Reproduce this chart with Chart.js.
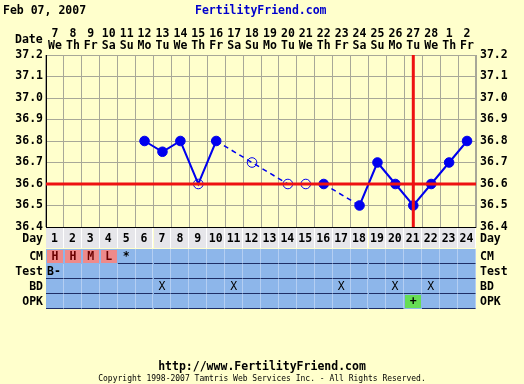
<!DOCTYPE html>
<html><head><meta charset="utf-8">
<script src="https://cdn.jsdelivr.net/npm/chart.js@4"></script>
<style>
html,body{margin:0;padding:0;background:#FFFFCC;}
#wrap{position:relative;width:524px;height:384px;overflow:hidden;font-family:'DejaVu Sans Mono',monospace;font-weight:bold;font-size:11.5px;color:#000;}
#c{position:absolute;left:0;top:0;}
.t{position:absolute;white-space:nowrap;line-height:1;}
.cell{position:absolute;box-sizing:border-box;text-align:center;white-space:nowrap;}
</style></head><body>
<div id="wrap"><canvas id="c" width="524" height="384"></canvas></div>
<script>
// ---- data ----
const dateNums = ['7','8','9','10','11','12','13','14','15','16','17','18','19','20','21','22','23','24','25','26','27','28','1','2'];
const weekdays = ['We','Th','Fr','Sa','Su','Mo','Tu','We','Th','Fr','Sa','Su','Mo','Tu','We','Th','Fr','Sa','Su','Mo','Tu','We','Th','Fr'];
const cycleDays = [1,2,3,4,5,6,7,8,9,10,11,12,13,14,15,16,17,18,19,20,21,22,23,24];
const temps = [null,null,null,null,null,36.8,36.75,36.8,36.6,36.8,null,36.7,null,36.6,36.6,36.6,null,36.5,36.7,36.6,36.5,36.6,36.7,36.8];
const openDays = [9,12,14,15];
const yTicks = [36.4,36.5,36.6,36.7,36.8,36.9,37.0,37.1,37.2];
const coverline = 36.6;
const ovulationDay = 21;
const cmObs = ['H','H','M','L','*','','','','','','','','','','','','','','','','','','',''];
const testObs = ['B-','','','','','','','','','','','','','','','','','','','','','','',''];
const bdObs = ['','','','','','','X','','','','X','','','','','','X','','','X','','X','',''];
const opkObs = ['','','','','','','','','','','','','','','','','','','','','+','','',''];
const rowLabels = ['CM','Test','BD','OPK'];
const chartTitle = 'Feb 07, 2007';
const siteName = 'FertilityFriend.com';
const siteUrl = 'http://www.FertilityFriend.com';
const copyright = 'Copyright 1998-2007 Tamtris Web Services Inc. - All Rights Reserved.';

const FONT = {family:"'DejaVu Sans Mono', monospace", size:11.5, weight:'bold', lineHeight:1.05};
const BLUE = '#0000EE';

const redLines = {
  id:'redLines',
  afterDatasetsDraw(chart){
    const {ctx, chartArea:a, scales} = chart;
    ctx.save();
    ctx.strokeStyle = '#EE1111';
    ctx.lineWidth = 3;
    const yy = scales.y.getPixelForValue(coverline);
    ctx.beginPath(); ctx.moveTo(a.left, yy); ctx.lineTo(a.right, yy); ctx.stroke();
    const xx = scales.x.getPixelForValue(cycleDays.indexOf(ovulationDay));
    ctx.beginPath(); ctx.moveTo(xx, a.top); ctx.lineTo(xx, a.bottom); ctx.stroke();
    ctx.restore();
  }
};
const gap = ctx => ctx.p0.skip || ctx.p1.skip;

const chart = new Chart(document.getElementById('c'), {
  type:'line',
  data:{
    labels: cycleDays.map(String),
    datasets:[{
      data: temps,
      borderColor: BLUE,
      borderWidth: 2,
      spanGaps: true,
      tension: 0,
      pointRadius: 4.8,
      pointHoverRadius: 4.8,
      pointBorderWidth: 1,
      pointBorderColor: BLUE,
      pointBackgroundColor: cycleDays.map(d => openDays.includes(d) ? 'rgba(0,0,0,0)' : BLUE),
      segment:{
        borderDash: ctx => (gap(ctx) ? [5,4] : undefined),
        borderWidth: ctx => (gap(ctx) ? 1.5 : 2)
      }
    }]
  },
  options:{
    responsive:false,
    animation:false,
    events:[],
    layout:{autoPadding:false, padding:{left:0,right:0,top:0,bottom:157}},
    plugins:{legend:{display:false}, tooltip:{enabled:false}},
    scales:{
      x:{display:false, offset:true},
      xTop:{
        type:'category', position:'top',
        labels: dateNums.map((d,i) => [d, weekdays[i]]),
        offset:true,
        grid:{offset:true, color:'#A8A898', drawTicks:false},
        border:{display:false},
        ticks:{font:FONT, color:'#000', padding:3, maxRotation:0, autoSkip:false},
        afterFit: s => { s.height = 55; }
      },
      y:{
        position:'left', min:36.4, max:37.2,
        afterBuildTicks: s => { s.ticks = yTicks.map(v => ({value:v})); },
        grid:{color:'#A8A898', drawTicks:false},
        border:{display:true, color:'#000', width:1},
        ticks:{font:FONT, color:'#000', padding:3, callback: v => v.toFixed(1)},
        afterFit: s => { s.width = 46; }
      },
      y2:{
        position:'right', min:36.4, max:37.2,
        afterBuildTicks: s => { s.ticks = yTicks.map(v => ({value:v})); },
        grid:{display:false, drawTicks:false},
        border:{display:true, color:'#A8A898', width:1},
        ticks:{font:FONT, color:'#000', padding:4, callback: v => v.toFixed(1)},
        afterFit: s => { s.width = 48; }
      }
    }
  },
  plugins:[redLines]
});

// ---- HTML text and lower grid ----
const wrap = document.getElementById('wrap');
function addText(txt, css){
  const d = document.createElement('div');
  d.className = 't'; d.textContent = txt;
  Object.assign(d.style, css);
  wrap.appendChild(d); return d;
}
addText(chartTitle, {left:'3px', top:'5px'});
addText(siteName, {left:'195px', top:'5px', color:'#0000CC'});
addText('Date', {left:'15px', top:'34px'});
addText(siteUrl, {left:'0', width:'524px', textAlign:'center', top:'361px'});
addText(copyright, {left:'0', width:'524px', textAlign:'center', top:'375px', fontSize:'8px', fontWeight:'normal'});

const a = chart.chartArea;
const xs = chart.scales.x;
const colW = (a.right - a.left) / cycleDays.length;
const dayTop = 228, dayH = 20;
const rowTops = [249, 264, 279, 294];
const rowH = [15, 15, 15, 15];
const gridBottom = 309;

function sideLabels(txt, top, h){
  addText(txt, {left:'0', width:'43px', textAlign:'right', top:(top + (h-11)/2)+'px'});
  addText(txt, {left:'480px', top:(top + (h-11)/2)+'px'});
}
sideLabels('Day', dayTop, dayH);
rowLabels.forEach((l,i) => sideLabels(l, rowTops[i], rowH[i]));

const bl = document.createElement('div');
Object.assign(bl.style, {position:'absolute', left:a.left+'px', top:(a.bottom-0.5)+'px', width:(a.right-a.left)+'px', height:'1px', background:'#000'});
wrap.appendChild(bl);

const band = document.createElement('div');
Object.assign(band.style, {position:'absolute', left:a.left+'px', top:rowTops[0]+'px', width:(a.right-a.left)+'px', height:(gridBottom-rowTops[0])+'px', background:'#8DB6EA'});
wrap.appendChild(band);

const rowsData = [cmObs, testObs, bdObs, opkObs];
cycleDays.forEach((d,i) => {
  const cx = xs.getPixelForValue(i);
  const left = cx - colW/2;
  const dc = document.createElement('div');
  dc.className = 'cell';
  Object.assign(dc.style, {left:left+'px', top:dayTop+'px', width:colW+'px', height:dayH+'px', background:'#E6E6EA', borderRight:'1px solid #FFFFFF', lineHeight:dayH+'px'});
  dc.textContent = String(d);
  wrap.appendChild(dc);
  rowsData.forEach((arr,r) => {
    const c = document.createElement('div');
    c.className = 'cell';
    const st = {left:left+'px', top:rowTops[r]+'px', width:colW+'px', height:rowH[r]+'px', borderRight:'1px solid #B4CEF2', borderBottom:'1px solid #1E2E66', lineHeight:(rowH[r]-1)+'px'};
    const v = arr[i];
    if (r === 0 && v && v !== '*') { st.background = '#EE8A8A'; st.color = '#6A0000'; st.border = '1px solid #8DB6EA'; st.borderBottom='1px solid #1E2E66'; st.lineHeight=(rowH[r]-2)+'px'; }
    if (r === 3 && v) { st.background = '#66DD55'; st.border = '1px solid #8DB6EA'; st.borderBottom='1px solid #1E2E66'; st.lineHeight=(rowH[r]-2)+'px'; }
    if (r === 2) { st.fontWeight = 'normal'; }
    if (r === 1 && v) { st.textAlign = 'left'; st.paddingLeft = '1px'; }
    Object.assign(c.style, st);
    c.textContent = v;
    wrap.appendChild(c);
  });
});
</script>
</body></html>
